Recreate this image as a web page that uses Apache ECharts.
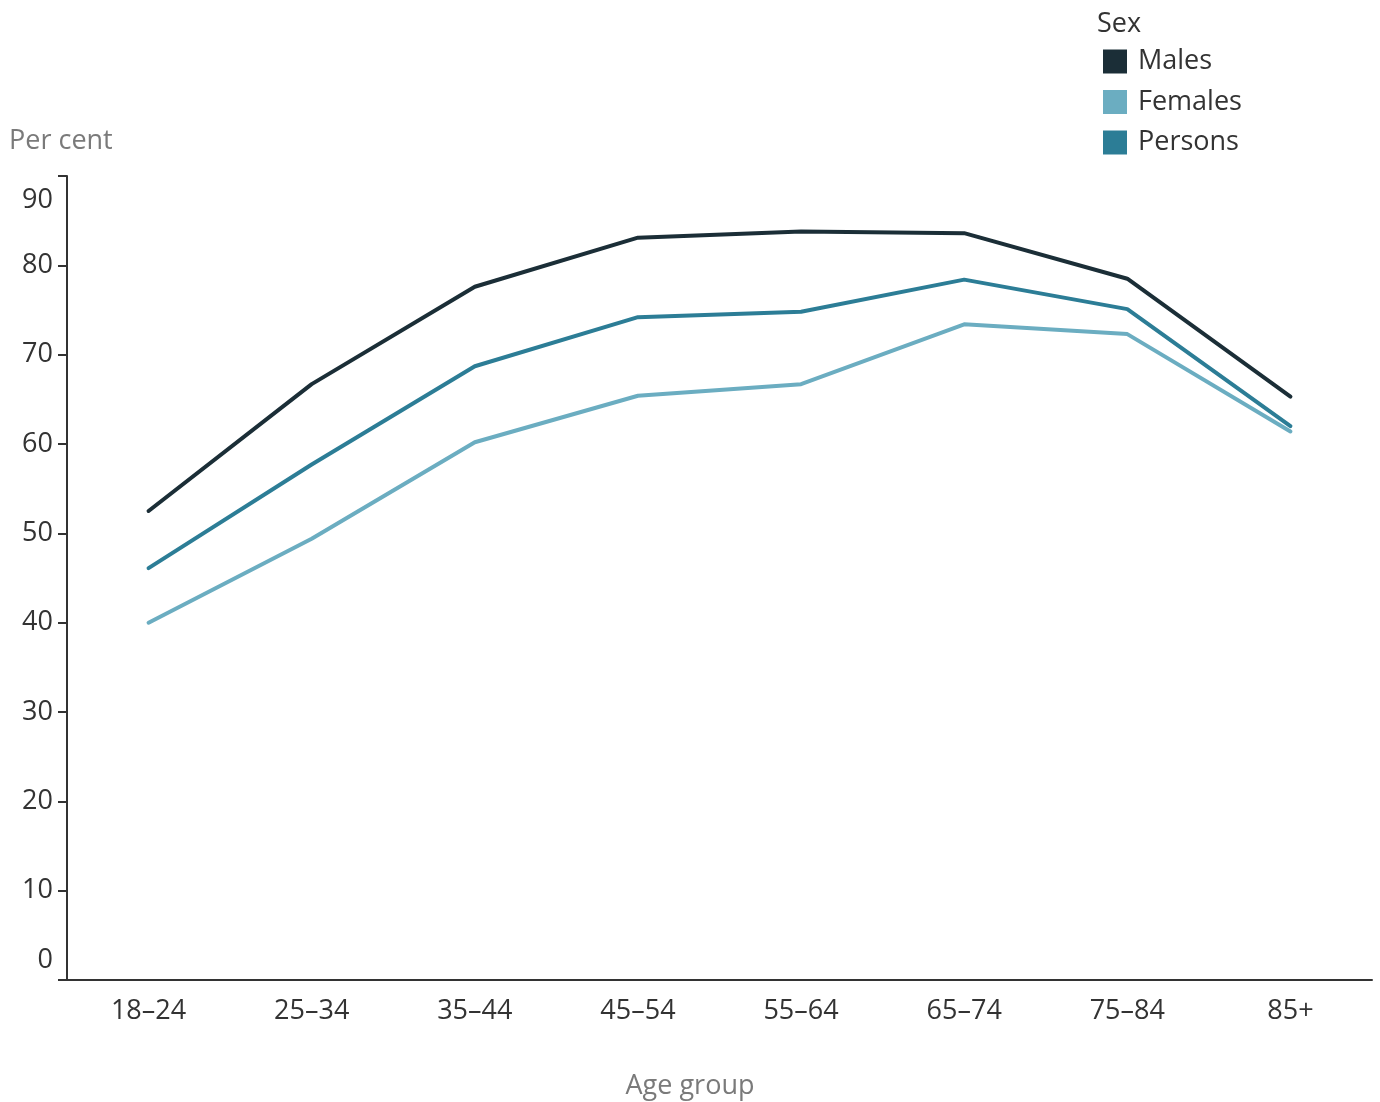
<!DOCTYPE html>
<html>
<head>
<meta charset="utf-8">
<script src="https://cdn.jsdelivr.net/npm/echarts@6/dist/echarts.min.js"></script>
<style>
html,body{margin:0;padding:0;background:#fff;}
#chart{width:1380px;height:1102px;}
</style>
</head>
<body>
<div id="chart"></div>
<script>
const categories = ['18–24','25–34','35–44','45–54','55–64','65–74','75–84','85+'];
const males   = [52.5, 66.7, 77.6, 83.1, 83.8, 83.6, 78.5, 65.3];
const females = [40.0, 49.4, 60.2, 65.4, 66.7, 73.4, 72.3, 61.4];
const persons = [46.1, 57.7, 68.7, 74.2, 74.8, 78.4, 75.1, 62.0];
const yTicks = [0, 10, 20, 30, 40, 50, 60, 70, 80, 90];

const FONT = '"Open Sans", "Noto Sans", sans-serif';
const FS = 27;
const colors = { Males: '#1b2e37', Females: '#6badc1', Persons: '#2c7d96' };

const chart = echarts.init(document.getElementById('chart'));
chart.setOption({
  animation: false,
  backgroundColor: '#fff',
  textStyle: { fontFamily: FONT },
  title: [
    { text: 'Per cent', left: 4, top: 123, textStyle: { fontFamily: FONT, fontSize: FS, fontWeight: 'normal', color: '#7a7a7a' } },
    { text: 'Sex', left: 1092, top: 6, textStyle: { fontFamily: FONT, fontSize: FS, fontWeight: 'normal', color: '#333' } },
    { text: 'Age group', left: 'center', top: 1068, textStyle: { fontFamily: FONT, fontSize: FS, fontWeight: 'normal', color: '#7a7a7a' } }
  ],
  legend: {
    orient: 'vertical',
    left: 1103,
    top: 48,
    padding: 0,
    itemWidth: 24,
    itemHeight: 24,
    itemGap: 13.5,
    icon: 'rect',
    data: ['Males', 'Females', 'Persons'],
    textStyle: { fontFamily: FONT, fontSize: FS, color: '#333', padding: [3, 0, 0, 6] }
  },
  grid: { left: 67, right: 8, top: 176, bottom: 122, outerBoundsMode: 'none', containLabel: false },
  xAxis: {
    type: 'category',
    data: categories,
    boundaryGap: true,
    axisLine: { lineStyle: { color: '#333', width: 2 } },
    axisTick: { show: false },
    axisLabel: { fontFamily: FONT, fontSize: FS, color: '#333', margin: 18 }
  },
  yAxis: {
    type: 'value',
    min: yTicks[0],
    max: yTicks[yTicks.length - 1],
    interval: 10,
    splitLine: { show: false },
    axisLine: { show: true, lineStyle: { color: '#333', width: 2 } },
    axisTick: { show: true, length: 9, lineStyle: { color: '#333', width: 2 } },
    axisLabel: {
      fontFamily: FONT, fontSize: FS, color: '#333', margin: 14,
      formatter: function (v) {
        if (v === yTicks[0]) return '{lo|' + v + '}';
        if (v === yTicks[yTicks.length - 1]) return '{hi|' + v + '}';
        return String(v);
      },
      rich: {
        lo: { fontFamily: FONT, fontSize: FS, color: '#333', padding: [0, 0, 40, 0] },
        hi: { fontFamily: FONT, fontSize: FS, color: '#333', padding: [48, 0, 0, 0] }
      }
    }
  },
  series: [
    { name: 'Females', type: 'line', data: females, symbol: 'none', color: colors.Females,
      lineStyle: { width: 4, cap: 'round', join: 'round' } },
    { name: 'Persons', type: 'line', data: persons, symbol: 'none', color: colors.Persons,
      lineStyle: { width: 4, cap: 'round', join: 'round' } },
    { name: 'Males', type: 'line', data: males, symbol: 'none', color: colors.Males,
      lineStyle: { width: 4, cap: 'round', join: 'round' } }
  ]
});
</script>
</body>
</html>
